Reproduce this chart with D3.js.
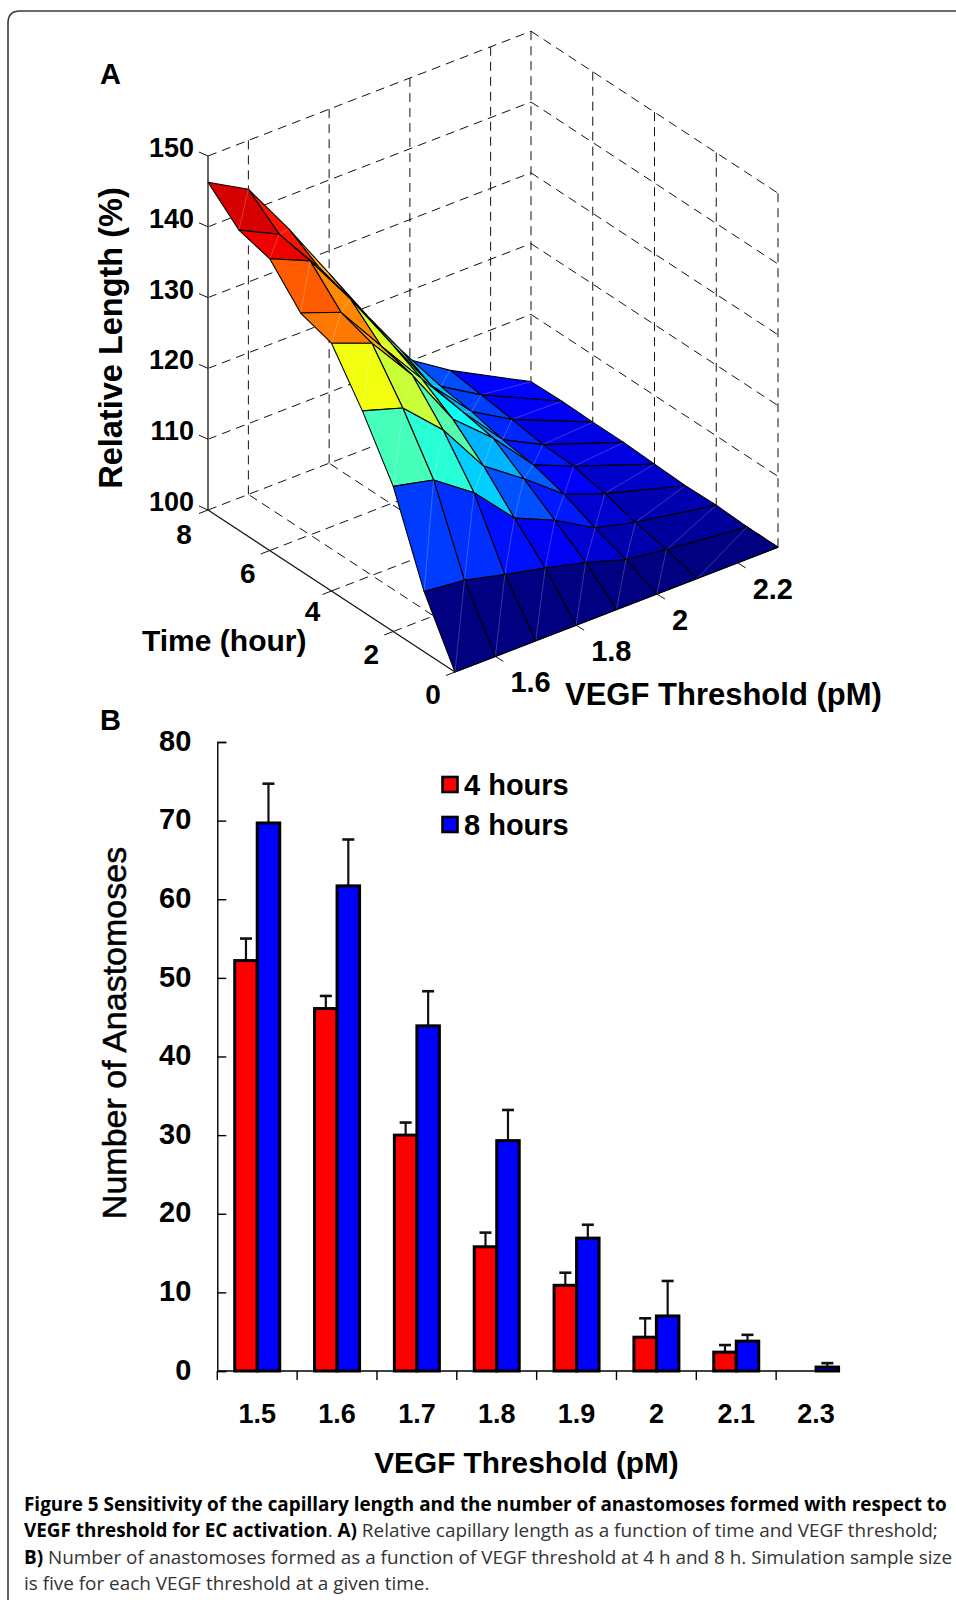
<!DOCTYPE html>
<html>
<head>
<meta charset="utf-8">
<script src="https://cdn.jsdelivr.net/npm/d3@7"></script>
<style>
html,body{margin:0;padding:0;background:#fff;}
svg{display:block;}
text{font-family:"Liberation Sans",Arial,sans-serif;fill:#000;}
.caption text{font-family:"Open Sans",sans-serif;}
</style>
</head>
<body>
<div id="chart"></div>
<script>
/* ---------------- DATA: panel A ---------------- */
const hours = [0,1,2,3,4,5,6,7,8];
const thresholds = [1.5,1.6,1.7,1.8,1.9,2,2.1,2.3];
const length0h = [100,100,100,100,100,100,100,100];
const length1h = [108.5,107.9,106.5,105.2,103.8,102.0,101.2,100.0];
const length2h = [120.5,119.2,115.2,109.4,106.9,103.6,102.2,100.2];
const length3h = [128.3,126.5,121.2,113.9,109.9,105.5,103.4,100.1];
const length4h = [135.0,132.8,126.1,117.7,112.8,106.8,104.4,100.3];
const length5h = [136.4,134.3,127.3,120.5,113.7,107.5,104.6,100.5];
const length6h = [141.2,138.7,131.1,122.7,114.5,108.6,105.3,100.5];
const length7h = [142.4,139.6,132.6,124.6,116.7,109.3,105.9,100.6];
const length8h = [146.3,143.1,135.3,126.8,118.3,110.2,106.5,100.5];
const lengthRows = [length0h,length1h,length2h,length3h,length4h,length5h,length6h,length7h,length8h];
const lengthTicks = [100,110,120,130,140,150];
const hourTicks = [0,2,4,6,8];
const thresholdTicks = [1.6,1.8,2,2.2];

/* ---------------- DATA: panel B ---------------- */
const categories = ["1.5","1.6","1.7","1.8","1.9","2","2.1","2.3"];
const mean4h = [52.2,46.1,30.0,15.8,10.9,4.3,2.4,0];
const top4h  = [55.0,47.7,31.6,17.6,12.5,6.7,3.3,null];
const mean8h = [69.7,61.7,43.9,29.3,16.9,7.0,3.8,0.5];
const top8h  = [74.7,67.6,48.3,33.2,18.6,11.45,4.6,1.0];
const countTicks = [0,10,20,30,40,50,60,70,80];

const svg = d3.select("#chart").append("svg")
    .attr("width",956)
    .attr("height",1600)
    .attr("viewBox","0 0 956 1600");

/* ---------------- FRAME ---------------- */
svg.append("path")
    .attr("d","M8,1600V23Q8,11 20,11H956")
    .attr("fill","none")
    .attr("stroke","#3a3a3a")
    .attr("stroke-width",1.6);

/* ---------------- PANEL A: PROJECTION ---------------- */
const a = svg.append("g");

const xT = d3.scaleLinear().domain([0,8]).range([0,-247]);
const xK = d3.scaleLinear().domain([1.5,2.3]).range([455,778]);
const yT = d3.scaleLinear().domain([0,8]).range([0,-162]);
const yK = d3.scaleLinear().domain([1.5,2.3]).range([0,-124.8]);
const yZ = d3.scaleLinear().domain([100,150]).range([672,318]);

const px = (t,k) => xK(k)+xT(t);
const py = (t,k,z) => yZ(z)+yT(t)+yK(k);

const jet = d3.scaleLinear()
    .domain([0,.125,.375,.625,.875,1].map(f=>100+f*46.3))
    .range(["#000080","#0000ff","#00ffff","#ffff00","#ff0000","#800000"])
    .clamp(true);

const tMax = 8, kMin = 1.5, kMax = 2.3;

function seg(g,p0,p1,dash,color,width){
    g.append("line")
        .attr("x1",px(p0[0],p0[1])).attr("y1",py(p0[0],p0[1],p0[2]))
        .attr("x2",px(p1[0],p1[1])).attr("y2",py(p1[0],p1[1],p1[2]))
        .attr("stroke",color||"#111")
        .attr("stroke-width",width||1)
        .attr("stroke-dasharray",dash||null);
}

/* dashed box */
const grid = a.append("g");
const dash = "9 6";
lengthTicks.forEach(z=>{
    seg(grid,[tMax,kMin,z],[tMax,kMax,z],dash);
    seg(grid,[tMax,kMax,z],[0,kMax,z],dash);
});
thresholdTicks.concat([kMax]).forEach(k=>{
    seg(grid,[tMax,k,100],[tMax,k,150],dash);
    seg(grid,[0,k,100],[tMax,k,100],dash);
});
hourTicks.slice(0,4).forEach(t=>{
    seg(grid,[t,kMax,100],[t,kMax,150],dash);
});
hourTicks.slice(1,4).forEach(t=>{
    seg(grid,[t,kMin,100],[t,kMax,100],dash);
});

/* solid axes */
seg(a,[tMax,kMin,100],[tMax,kMin,150],null,"#666",2);
seg(a,[tMax,kMin,100],[0,kMin,100],null,"#111",1.2);
seg(a,[0,kMin,100],[0,kMax,100],null,"#111",1.2);

lengthTicks.forEach(z=>{
    const x0 = px(tMax,kMin), y0 = py(tMax,kMin,z);
    a.append("line").attr("x1",x0-9).attr("y1",y0-4).attr("x2",x0).attr("y2",y0)
        .attr("stroke","#111");
    a.append("text")
        .attr("x",x0-14).attr("y",y0+1)
        .attr("text-anchor","end")
        .style("font-size","27px").style("font-weight","700")
        .text(z);
});
hourTicks.forEach(t=>{
    const x0 = px(t,kMin), y0 = py(t,kMin,100);
    a.append("line").attr("x1",x0-9).attr("y1",y0+3.5).attr("x2",x0).attr("y2",y0)
        .attr("stroke","#111");
    a.append("text")
        .attr("x",x0-22-(t===8?2:0)+(t===4?3:0)).attr("y",y0+32+(t===8?2:0)-(t===4?2:0))
        .attr("text-anchor","middle")
        .style("font-size","28px").style("font-weight","700")
        .text(t);
});
thresholdTicks.forEach(k=>{
    const x0 = px(0,k), y0 = py(0,k,100);
    a.append("line").attr("x1",x0).attr("y1",y0).attr("x2",x0+8).attr("y2",y0+5)
        .attr("stroke","#111");
    a.append("text")
        .attr("x",x0+15).attr("y",y0+36)
        .style("font-size","29px").style("font-weight","700")
        .text(k);
});

/* surface, far cells first */
const surface = a.append("g");
for(let i=hours.length-2;i>=0;i--){
    for(let j=thresholds.length-2;j>=0;j--){
        const t0=hours[i], t1=hours[i+1], k0=thresholds[j], k1=thresholds[j+1];
        const pts = [
            [t0,k0,lengthRows[i][j]],
            [t0,k1,lengthRows[i][j+1]],
            [t1,k1,lengthRows[i+1][j+1]],
            [t1,k0,lengthRows[i+1][j]]
        ];
        surface.append("polygon")
            .attr("points",pts.map(p=>px(p[0],p[1])+","+py(p[0],p[1],p[2])).join(" "))
            .attr("fill",jet(lengthRows[i][j]))
            .attr("stroke","#000")
            .attr("stroke-width",1.1)
            .attr("stroke-linejoin","round");
        seg(surface,pts[0],pts[2],null,"rgba(255,255,255,.28)",.8);
    }
}

/* panel A titles */
a.append("text").attr("x",100).attr("y",84)
    .style("font-size","29px").style("font-weight","700").text("A");
a.append("text")
    .attr("transform","translate(122,338) rotate(-90)")
    .attr("text-anchor","middle")
    .style("font-size","32.5px").style("font-weight","700")
    .text("Relative Length (%)");
a.append("text").attr("x",142).attr("y",651)
    .style("font-size","30px").style("font-weight","700").text("Time (hour)");
a.append("text").attr("x",565).attr("y",705)
    .style("font-size","31px").style("font-weight","700").text("VEGF Threshold (pM)");

/* ---------------- PANEL B ---------------- */
const b = svg.append("g");

b.append("text").attr("x",100).attr("y",730)
    .style("font-size","29px").style("font-weight","700").text("B");

const x = d3.scaleBand().domain(categories).range([217.3,856]);
const y = d3.scaleLinear().domain([0,80]).range([1371,742]);
const barW = 22.5;

const bandRows = categories.map((c,i)=>({c,m4:mean4h[i],e4:top4h[i],m8:mean8h[i],e8:top8h[i]}));

function errorBars(key,topKey,offset){
    const g = b.append("g").attr("stroke","#111").attr("stroke-width",2.2);
    bandRows.filter(d=>d[topKey]!==null).forEach(d=>{
        const cx = x(d.c)+x.bandwidth()/2+offset;
        g.append("line").attr("x1",cx).attr("x2",cx).attr("y1",y(d[key])).attr("y2",y(d[topKey]));
        g.append("line").attr("x1",cx-6).attr("x2",cx+6).attr("y1",y(d[topKey])).attr("y2",y(d[topKey])).attr("stroke-width",2.6);
    });
}
errorBars("m4","e4",-barW/2);
errorBars("m8","e8",barW/2);

function bars(key,color,offset){
    b.append("g").selectAll("rect")
        .data(bandRows.filter(d=>d[key]>0))
        .join("rect")
        .attr("x",d=>x(d.c)+x.bandwidth()/2+offset)
        .attr("y",d=>y(d[key]))
        .attr("width",barW)
        .attr("height",d=>y(0)-y(d[key]))
        .attr("fill",color)
        .attr("stroke","#000")
        .attr("stroke-width",3);
}
bars("m4","#ff0000",-barW);
bars("m8","#0000ff",0);

const yAxis = b.append("g")
    .attr("transform","translate(217.3,0)")
    .call(d3.axisLeft(y).tickValues(countTicks).tickSize(-9).tickPadding(26));
yAxis.selectAll(".domain").attr("stroke","#000").attr("stroke-width",1.4);
yAxis.selectAll("line").attr("stroke","#000").attr("stroke-width",1.4);
yAxis.selectAll("text")
    .style("font-size","29px").style("font-weight","700")
    .style("font-family","'Liberation Sans'").attr("dy","0.28em");

const xAxis = b.append("g")
    .attr("transform","translate(0,1371)")
    .call(d3.axisBottom(x).tickSize(0).tickPadding(33));
xAxis.select(".domain").remove();
xAxis.selectAll("text")
    .style("font-size","27px").style("font-weight","700")
    .style("font-family","'Liberation Sans'");

b.append("line")
    .attr("x1",217.3).attr("x2",840).attr("y1",y(0)).attr("y2",y(0))
    .attr("stroke","#000").attr("stroke-width",1.4);
b.selectAll(".edge")
    .data(categories)
    .join("line")
    .attr("x1",d=>x(d)).attr("x2",d=>x(d))
    .attr("y1",y(0)).attr("y2",y(0)+9)
    .attr("stroke","#000").attr("stroke-width",1.4);

b.append("text")
    .attr("transform","translate(126,1033) rotate(-90)")
    .attr("text-anchor","middle")
    .style("font-size","34px")
    .style("stroke","#000").style("stroke-width",.5)
    .text("Number of Anastomoses");
b.append("text")
    .attr("x",526.5).attr("y",1473)
    .attr("text-anchor","middle")
    .style("font-size","29.8px").style("font-weight","700")
    .text("VEGF Threshold (pM)");

/* legend */
const legendItems = [["4 hours","#ff0000",795],["8 hours","#0000ff",835]];
legendItems.forEach(l=>{
    b.append("rect").attr("x",442.5).attr("y",l[2]-18).attr("width",15).attr("height",15)
        .attr("fill",l[1]).attr("stroke","#000").attr("stroke-width",2.6);
    b.append("text").attr("x",464).attr("y",l[2])
        .style("font-size","29px").style("font-weight","700").text(l[0]);
});

/* ---------------- CAPTION ---------------- */
const captionLines = [
    [["Figure 5 Sensitivity of the capillary length and the number of anastomoses formed with respect to",1]],
    [["VEGF threshold for EC activation",1],[". ",0],["A)",1],[" Relative capillary length as a function of time and VEGF threshold;",0]],
    [["B)",1],[" Number of anastomoses formed as a function of VEGF threshold at 4 h and 8 h. Simulation sample size",0]],
    [["is five for each VEGF threshold at a given time.",0]]
];
const captionY = [1511,1537,1564,1590];
const cap = svg.append("g").attr("class","caption");
captionLines.forEach((line,i)=>{
    const t = cap.append("text").attr("x",24).attr("y",captionY[i]).attr("xml:space","preserve")
        .style("font-size","18.9px");
    line.forEach(p=>{
        t.append("tspan").text(p[0])
            .style("font-weight",p[1]?700:400)
            .style("fill",p[1]?"#000":"#333");
    });
});
</script>
</body>
</html>
